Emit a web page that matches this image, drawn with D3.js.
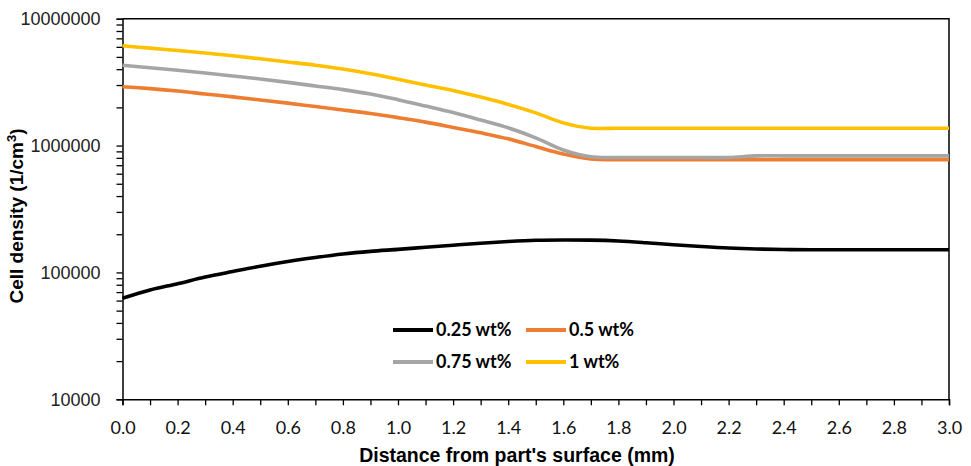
<!DOCTYPE html>
<html>
<head>
<meta charset="utf-8">
<script src="https://cdn.jsdelivr.net/npm/d3@7"></script>
<style>
  body { margin: 0; background: #fff; }
  svg { display: block; }
</style>
</head>
<body>
<div id="chart"></div>
<script>
// distance from part's surface (mm)
const distance = [0.0, 0.1, 0.2, 0.3, 0.4, 0.5, 0.6, 0.7, 0.8, 0.9, 1.0,
  1.1, 1.2, 1.3, 1.4, 1.5, 1.6, 1.7, 1.8, 1.9, 2.0,
  2.1, 2.2, 2.3, 2.4, 2.5, 2.6, 2.7, 2.8, 2.9, 3.0]

// cell density (1/cm3)
const wt025 = [62500, 72700, 81500, 92000, 101700, 112000, 121900, 131100, 139800, 146600, 152000,
  158000, 164000, 170000, 175300, 179200, 180200, 179600, 176900, 171600, 165500,
  160200, 155800, 153000, 151600, 151100, 151100, 151100, 151100, 151100, 151100]
const wt05 = [2910000, 2810000, 2690000, 2550000, 2420000, 2290000, 2160000, 2030000, 1910000, 1790000, 1660000,
  1530000, 1390000, 1260000, 1130000, 983000, 858000, 784000, 775000, 775000, 775000,
  775000, 775000, 775000, 775000, 775000, 775000, 775000, 775000, 775000, 775000]
const wt075 = [4290000, 4110000, 3920000, 3730000, 3540000, 3350000, 3150000, 2950000, 2760000, 2550000, 2300000,
  2050000, 1820000, 1590000, 1380000, 1150000, 923000, 815000, 805000, 805000, 805000,
  805000, 805000, 830000, 830000, 830000, 830000, 830000, 830000, 830000, 830000]
const wt1 = [6120000, 5860000, 5620000, 5370000, 5100000, 4830000, 4560000, 4300000, 4010000, 3680000, 3330000,
  3000000, 2720000, 2410000, 2110000, 1810000, 1510000, 1370000, 1370000, 1370000, 1370000,
  1370000, 1370000, 1370000, 1370000, 1370000, 1370000, 1370000, 1370000, 1370000, 1370000]

const seriesNames = ['0.25 wt%', '0.5 wt%', '0.75 wt%', '1 wt%']
const seriesColors = ['#000000', '#ED7D31', '#A5A5A5', '#FFC000']
const seriesValues = [wt025, wt05, wt075, wt1]

const xTicks = [0.0, 0.2, 0.4, 0.6, 0.8, 1.0, 1.2, 1.4, 1.6, 1.8, 2.0, 2.2, 2.4, 2.6, 2.8, 3.0]
const yTicks = [10000, 100000, 1000000, 10000000]

const width = 971
const height = 466
const margin = { top: 18.7, right: 22, bottom: 66.7, left: 122.5 }

const svg = d3.select('#chart')
  .append('svg')
  .attr('width', width)
  .attr('height', height)

const scaleX = d3.scaleLinear()
  .domain([0, 3])
  .range([margin.left, width - margin.right])

const scaleY = d3.scaleLog()
  .domain([10000, 10000000])
  .range([height - margin.bottom, margin.top])

// minor ticks for log axis
const yMinor = []
yTicks.slice(0, -1).forEach(t => {
  for (let k = 1; k <= 9; k++) yMinor.push(t * k)
})
yMinor.push(10000000)

// frame (top + right)
svg.append('path')
  .attr('d', `M${scaleX(0)},${scaleY(1e7)}H${scaleX(3)}V${scaleY(1e4)}`)
  .attr('fill', 'none')
  .attr('stroke', '#000')
  .attr('stroke-width', 1.5)

const axisX = d3.axisBottom(scaleX)
  .tickValues(distance)
  .tickSizeOuter(0)
  .tickSize(6)
  .tickFormat(d => xTicks.some(t => Math.abs(t - d) < 1e-9) ? d3.format('.1f')(d) : '')

const gx = svg.append('g')
  .attr('transform', `translate(0, ${scaleY(1e4)})`)
  .call(axisX)
gx.select('.domain').attr('stroke-width', 1.5)
gx.selectAll('.tick line').attr('stroke-width', 1.3)
gx.selectAll('.tick text')
  .attr('dy', '0')
  .attr('y', 35)
  .style('font-family', 'Lato, sans-serif')
  .style('font-size', '18px')
  .attr('fill', '#111')

const axisY = d3.axisLeft(scaleY)
  .tickValues(yMinor)
  .tickSizeOuter(0)
  .tickSize(6)
  .tickFormat(d => yTicks.includes(d) ? d3.format('d')(d) : '')

const gy = svg.append('g')
  .attr('transform', `translate(${scaleX(0)}, 0)`)
  .call(axisY)
gy.select('.domain').attr('stroke-width', 1.5)
gy.selectAll('.tick line').attr('stroke-width', 1.3)
gy.selectAll('.tick text')
  .attr('x', -22)
  .style('font-family', 'Liberation Sans, Arial, sans-serif')
  .style('font-size', '18px')
  .attr('fill', '#222')

// lines
const line = d3.line()
  .x((d, i) => scaleX(distance[i]))
  .y(d => scaleY(d))
  .curve(d3.curveCatmullRom.alpha(0.5))

svg.append('g')
  .selectAll('path')
  .data(seriesValues)
  .enter()
  .append('path')
  .attr('d', d => line(d))
  .attr('fill', 'none')
  .attr('stroke', (d, i) => seriesColors[i])
  .attr('stroke-width', 3.6)
  .attr('stroke-linejoin', 'round')

// axis titles
svg.append('text')
  .attr('x', 517)
  .attr('y', 462)
  .attr('text-anchor', 'middle')
  .style('font-family', 'Liberation Sans, Arial, sans-serif')
  .style('font-weight', 'bold')
  .style('font-size', '19.5px')
  .text("Distance from part's surface (mm)")

svg.append('text')
  .attr('transform', `translate(23, 216) rotate(-90)`)
  .attr('text-anchor', 'middle')
  .style('font-family', 'Liberation Sans, Arial, sans-serif')
  .style('font-weight', 'bold')
  .style('font-size', '19px')
  .text('Cell density (1/cm')
  .append('tspan')
  .attr('dy', -7)
  .style('font-size', '13px')
  .text('3')
  .append('tspan')
  .attr('dy', 7)
  .style('font-size', '19px')
  .text(')')

// legend
const legendPos = [[393, 330], [526, 330], [393, 362], [526, 362]]
const legend = svg.append('g')
  .selectAll('g')
  .data(seriesNames)
  .enter()
  .append('g')
  .attr('transform', (d, i) => `translate(${legendPos[i][0]}, ${legendPos[i][1]})`)

legend.append('line')
  .attr('x1', 0)
  .attr('x2', 40)
  .attr('stroke', (d, i) => seriesColors[i])
  .attr('stroke-width', 4)

legend.append('text')
  .attr('x', 43)
  .attr('dy', '0.35em')
  .style('font-family', 'Lato, sans-serif')
  .style('font-weight', 'bold')
  .style('font-size', '18px')
  .text(d => d)
</script>
</body>
</html>
